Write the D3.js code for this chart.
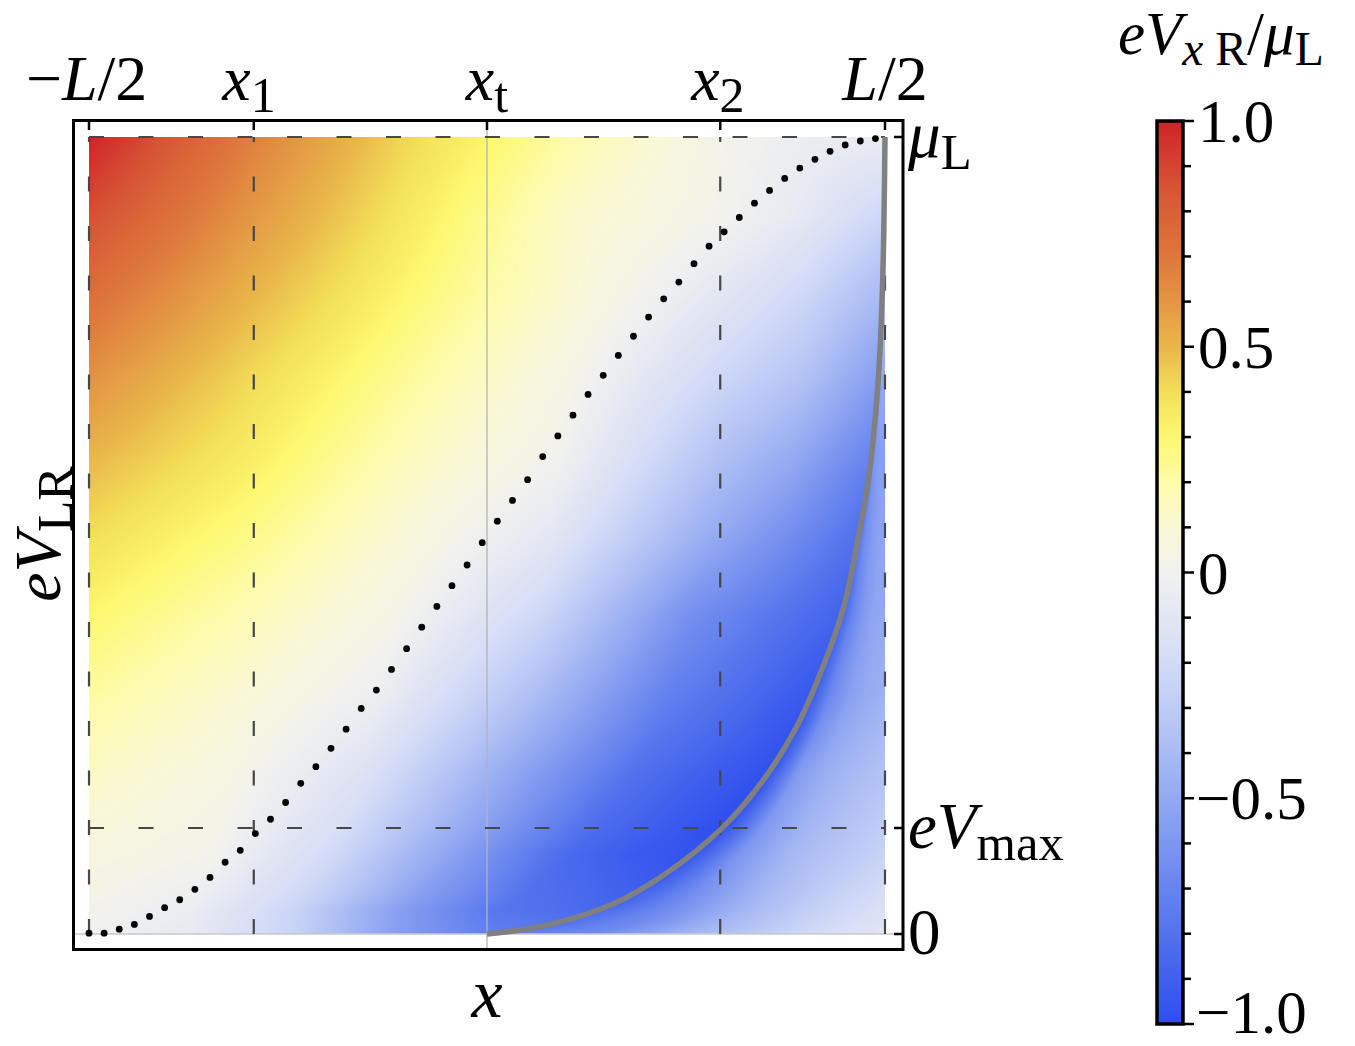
<!DOCTYPE html>
<html>
<head>
<meta charset="utf-8">
<script src="https://cdn.jsdelivr.net/npm/d3@7"></script>
<style>
  body { margin: 0; background: #fff; }
  svg text { font-family: "Liberation Serif", "Times New Roman", serif; fill: #000; }
</style>
</head>
<body>
<svg id="chart" width="1355" height="1046"></svg>
<script>
// ---- data (x in units of L, V in units of mu_L, field = eV_xR / mu_L) ----

// grey curve: position of the field minimum, and the field value on it
var ridgeX = [0, 0.075, 0.159, 0.222, 0.295, 0.347, 0.389, 0.422, 0.448, 0.464, 0.479, 0.491, 0.497, 0.5];
var ridgeV = [0, 0.011, 0.038, 0.074, 0.1325, 0.193, 0.26, 0.335, 0.41, 0.485, 0.569, 0.687, 0.817, 1];
var ridgeF = [-0.74, -0.8, -0.88, -0.95, -1, -0.99, -0.97, -0.93, -0.88, -0.82, -0.75, -0.58, -0.38, -0.05];

// field rows read at these V values
var rowV = [0, 0.1, 0.2, 0.3, 0.4, 0.5, 0.6, 0.7, 0.8, 0.9, 1];
// left of the grey curve: columns at fractions of the way from -L/2 to the curve
var leftS = [0, 0.2, 0.4, 0.6, 0.8, 0.9];
var leftF = [
  [0,      -0.07,  -0.25,  -0.55,  -0.74, -0.76],
  [0.064,   0.02,  -0.2,   -0.53,  -0.85, -0.93],
  [0.136,   0.055, -0.13,  -0.47,  -0.8,  -0.9],
  [0.216,   0.11,  -0.03,  -0.35,  -0.72, -0.83],
  [0.304,   0.18,   0.04,  -0.22,  -0.64, -0.76],
  [0.4,     0.265,  0.1,   -0.09,  -0.47, -0.63],
  [0.504,   0.35,   0.165,  0.005, -0.35, -0.49],
  [0.616,   0.42,   0.23,   0.05,  -0.22, -0.34],
  [0.736,   0.51,   0.3,    0.11,  -0.1,  -0.22],
  [0.864,   0.6,    0.36,   0.13,   0.01, -0.08],
  [1,       0.68,   0.42,   0.2,    0.02, -0.04]
];
// right of the grey curve: columns at fractions of the way from the curve to L/2
var rightT = [0.25, 0.5, 0.75, 1];
var rightF = [
  [-0.67, -0.43, -0.24, -0.1],
  [-0.6,  -0.42, -0.33, -0.25],
  [-0.58, -0.46, -0.4,  -0.35],
  [-0.68, -0.56, -0.49, -0.45],
  [-0.7,  -0.58, -0.52, -0.5],
  [-0.66, -0.58, -0.54, -0.52],
  [-0.6,  -0.57, -0.55, -0.55],
  [-0.5,  -0.5,  -0.5,  -0.5],
  [-0.36, -0.35, -0.34, -0.33],
  [-0.2,  -0.2,  -0.19, -0.18],
  [-0.05, -0.05, -0.05, -0.05]
];

// dotted curve
var dotX = [-0.5, -0.481, -0.462, -0.443, -0.424, -0.405, -0.386, -0.367, -0.348, -0.329,
  -0.31, -0.291, -0.272, -0.253, -0.234, -0.215, -0.196, -0.177, -0.158, -0.139,
  -0.12, -0.101, -0.082, -0.063, -0.044, -0.025, -0.006, 0.013, 0.032, 0.051,
  0.07, 0.089, 0.108, 0.127, 0.146, 0.165, 0.184, 0.203, 0.222, 0.241,
  0.26, 0.279, 0.298, 0.317, 0.336, 0.355, 0.374, 0.393, 0.412, 0.431,
  0.45, 0.469, 0.488];
var dotV = [0.001, 0.001, 0.006, 0.012, 0.022, 0.033, 0.043, 0.056, 0.071, 0.09,
  0.105, 0.126, 0.144, 0.165, 0.189, 0.21, 0.233, 0.257, 0.283, 0.306,
  0.332, 0.358, 0.385, 0.411, 0.437, 0.463, 0.491, 0.518, 0.544, 0.57,
  0.599, 0.625, 0.651, 0.677, 0.701, 0.726, 0.75, 0.774, 0.797, 0.818,
  0.841, 0.863, 0.881, 0.899, 0.917, 0.933, 0.948, 0.961, 0.972, 0.982,
  0.99, 0.995, 0.998];

// ticks
var xTicks = [-0.5, -0.293, 0, 0.293, 0.5];
var xTickLabels = [
  [["\u2212", ""], ["L", "i"], ["/2", ""]],
  [["x", "i"], ["1", "s"]],
  [["x", "i"], ["t", "s"]],
  [["x", "i"], ["2", "s"]],
  [["L", "i"], ["/2", ""]]
];
var vTicks = [1, 0.133, 0];
var vTickLabels = [
  [["\u03bc", "i"], ["L", "s"]],
  [["e", "i"], ["V", "i"], ["max", "s"]],
  [["0", ""]]
];
var dashX = [-0.5, -0.293, 0.293, 0.5];
var dashV = [1, 0.133];

// colour map (TemperatureMap-like)
var cmapValues = [-1, -0.8, -0.6, -0.4, -0.2, 0, 0.1, 0.2, 0.3, 0.4, 0.5, 0.6, 0.7, 0.85, 1];
var cmapColors = ["#2e4eee", "#5272ed", "#7d97f0", "#a9bbf4", "#d3dbf7", "#f1f1ef", "#f9f8d6",
  "#fdfba9", "#fdf870", "#f3df58", "#e9b64a", "#e39643", "#de773d", "#d65534", "#d0222a"];
var cbTicks = [-1, -0.5, 0, 0.5, 1];
var cbTickLabels = ["\u22121.0", "\u22120.5", "0", "0.5", "1.0"];

// ---- drawing ----
var svg = d3.select("#chart");
svg.append("rect").attr("width", 1355).attr("height", 1046).attr("fill", "#fff");

var xs = d3.scaleLinear().domain([-0.5, 0.5]).range([89, 885]);
var ys = d3.scaleLinear().domain([0, 1]).range([934, 137]);
var color = d3.scaleLinear().domain(cmapValues).range(cmapColors)
  .interpolate(d3.interpolateRgb).clamp(true);
var ridgeValue = d3.scaleLinear().domain(ridgeV).range(ridgeF).clamp(true);

var fieldLayer = svg.append("g");
var axisLayer = svg.append("g");
var dashLayer = svg.append("g");
var dotLayer = svg.append("g");
var ridgeLayer = svg.append("g");
var frameLayer = svg.append("g");
var lab = svg.append("g");

function addLabel(g, parts, x, y, size, anchor) {
  var t = g.append("text").attr("x", x).attr("y", y)
    .attr("font-size", size).attr("text-anchor", anchor || "start");
  var shift = 0;
  parts.forEach(function(p) {
    var isSub = p[1].indexOf("s") >= 0;
    var s = t.append("tspan").text(p[0]);
    var want = isSub ? Math.round(size * 0.18) : 0;
    if (want !== shift) { s.attr("dy", want - shift); shift = want; }
    s.attr("font-size", isSub ? size * 0.78 : size);
    if (p[1].indexOf("i") >= 0) s.attr("font-style", "italic");
  });
  return t;
}

// grey curve
var ridge = ridgeX.map(function(x, i) { return [x, ridgeV[i]]; });
var ridgePath = ridgeLayer.append("path").datum(ridge)
  .attr("d", d3.line().x(function(d) { return xs(d[0]); }).y(function(d) { return ys(d[1]); })
    .curve(d3.curveCatmullRom.alpha(0.5)))
  .attr("fill", "none").attr("stroke", "#808080").attr("stroke-width", 5.5);

// density field, drawn pixel by pixel on a canvas
(function() {
  var node = ridgePath.node(), len = node.getTotalLength();
  var samp = [];
  for (var l = 0; l <= len; l += 0.5) { var q = node.getPointAtLength(l); samp.push([q.y, q.x]); }
  samp.sort(function(a, b) { return a[0] - b[0]; });
  var ridgeAt = d3.scaleLinear().domain(samp.map(function(d) { return d[0]; }))
    .range(samp.map(function(d) { return d[1]; })).clamp(true);
  // the curve leaves V=0 almost flat; the lowest rows are measured against its place at V=0.03
  var rxLow = ridgeAt(ys(0.03));

  var xL = xs(-0.5), xR = xs(0.5), y0 = ys(1);
  var W = Math.round(xR - xL), H = Math.round(ys(0) - y0);
  var lut = d3.range(0, 1001).map(function(i) { return d3.rgb(color(-1 + i / 500)); });
  var canvas = document.createElement("canvas");
  canvas.width = W; canvas.height = H;
  var ctx = canvas.getContext("2d");
  var img = ctx.createImageData(W, H);
  var sCols = leftS.concat([1]);
  var tCols = [0].concat(rightT);
  var rowIdx = d3.scaleLinear().domain(rowV).range(d3.range(rowV.length)).clamp(true);

  function interpCols(cols, vals, s) {
    var j = 0;
    while (j < cols.length - 2 && s > cols[j + 1]) j++;
    var f = (s - cols[j]) / (cols[j + 1] - cols[j]);
    f = Math.max(0, Math.min(1, f));
    return vals[j] + (vals[j + 1] - vals[j]) * f;
  }

  for (var py = 0; py < H; py++) {
    var y = y0 + py + 0.5;
    var v = ys.invert(y);
    var ri = rowIdx(v), i = Math.min(Math.floor(ri), rowV.length - 2), fv = ri - i;
    var rv = ridgeValue(v);
    var lv = leftF[i].map(function(a, k) { return a + (leftF[i + 1][k] - a) * fv; }).concat([rv]);
    var rvals = [rv].concat(rightF[i].map(function(a, k) { return a + (rightF[i + 1][k] - a) * fv; }));
    var rx = ridgeAt(y);
    var rs = Math.max(rx, rxLow);
    for (var px = 0; px < W; px++) {
      var x = xL + px + 0.5, f;
      if (x <= rx) f = interpCols(sCols, lv, (x - xL) / (rs - xL));
      else f = interpCols(tCols, rvals, (x - rx) / Math.max(1e-6, xR - rx));
      var col = lut[Math.max(0, Math.min(1000, Math.round((f + 1) * 500)))];
      var o = (py * W + px) * 4;
      img.data[o] = col.r; img.data[o + 1] = col.g; img.data[o + 2] = col.b; img.data[o + 3] = 255;
    }
  }
  ctx.putImageData(img, 0, 0);
  fieldLayer.append("image").attr("x", xL).attr("y", y0).attr("width", W).attr("height", H)
    .attr("preserveAspectRatio", "none")
    .attr("href", canvas.toDataURL());
})();

// axes lines through origin (light grey)
axisLayer.append("line").attr("x1", xs(0)).attr("x2", xs(0)).attr("y1", 122).attr("y2", 948)
  .attr("stroke", "#b4b4b4").attr("stroke-width", 1.3);
axisLayer.append("line").attr("x1", 75).attr("x2", 901).attr("y1", ys(0)).attr("y2", ys(0))
  .attr("stroke", "#c8c8c8").attr("stroke-width", 1.3);

// dashed guides
dashLayer.attr("stroke", "#474747").attr("stroke-width", 2.2)
  .attr("stroke-dasharray", "15,34.5").attr("fill", "none");
dashX.forEach(function(x) {
  dashLayer.append("line").attr("x1", xs(x)).attr("x2", xs(x)).attr("y1", ys(0)).attr("y2", ys(1));
});
dashV.forEach(function(v) {
  dashLayer.append("line").attr("x1", xs(-0.5)).attr("x2", xs(0.5)).attr("y1", ys(v)).attr("y2", ys(v));
});

// dotted curve
dotLayer.selectAll("circle").data(dotX).enter().append("circle")
  .attr("cx", function(d) { return xs(d); })
  .attr("cy", function(d, i) { return ys(dotV[i]); })
  .attr("r", 3.4).attr("fill", "#000");

// frame
frameLayer.append("rect").attr("x", 73.5).attr("y", 120.5).attr("width", 829.5).attr("height", 829)
  .attr("fill", "none").attr("stroke", "#000").attr("stroke-width", 3);
var tk = frameLayer.append("g").attr("stroke", "#000").attr("stroke-width", 2.5);
xTicks.forEach(function(x) {
  tk.append("line").attr("x1", xs(x)).attr("x2", xs(x)).attr("y1", 122).attr("y2", 130);
});
vTicks.forEach(function(v) {
  tk.append("line").attr("x1", 894).attr("x2", 902).attr("y1", ys(v)).attr("y2", ys(v));
});

// tick labels
var xCenters = [-0.503, -0.299, 0, 0.29, 0.5];
xTicks.forEach(function(x, i) {
  addLabel(lab, xTickLabels[i], xs(xCenters[i]), 100, 64, "middle");
});
vTicks.forEach(function(v, i) {
  addLabel(lab, vTickLabels[i], 908, ys(v) + 20, 65, "start");
});

// axis titles
addLabel(lab, [["x", "i"]], xs(0), 1017, 70, "middle");
var yl = addLabel(lab, [["e", "i"], ["V", "i"], ["LR", "s"]], 0, 0, 66, "middle");
yl.attr("transform", "translate(60,534) rotate(-90)");

// colour bar
var cs = d3.scaleLinear().domain([-1, 1]).range([1024, 121]);
var grad = svg.append("defs").append("linearGradient").attr("id", "cbgrad")
  .attr("x1", 0).attr("y1", 0).attr("x2", 0).attr("y2", 1);
cmapValues.slice().reverse().forEach(function(v) {
  grad.append("stop").attr("offset", (1 - v) / 2).attr("stop-color", color(v));
});
svg.append("rect").attr("x", 1157).attr("y", cs(1)).attr("width", 26).attr("height", cs(-1) - cs(1))
  .attr("fill", "url(#cbgrad)").attr("stroke", "#000").attr("stroke-width", 3.5);
var cbt = svg.append("g").attr("stroke", "#000").attr("stroke-width", 2.5);
cs.ticks(20).forEach(function(v) {
  var major = cbTicks.some(function(m) { return Math.abs(m - v) < 1e-6; });
  cbt.append("line").attr("x1", 1183).attr("x2", major ? 1194 : 1191)
    .attr("y1", cs(v)).attr("y2", cs(v));
});
cbTicks.forEach(function(v, i) {
  lab.append("text").attr("x", v < 0 ? 1196 : 1198).attr("y", Math.min(cs(v) + 21, 1033))
    .attr("font-size", 61).text(cbTickLabels[i]);
});
addLabel(lab, [["e", "i"], ["V", "i"], ["x", "is"], [" R", "s"], ["/", ""], ["\u03bc", "i"], ["L", "s"]],
  1118, 54, 61, "start");
</script>
</body>
</html>
